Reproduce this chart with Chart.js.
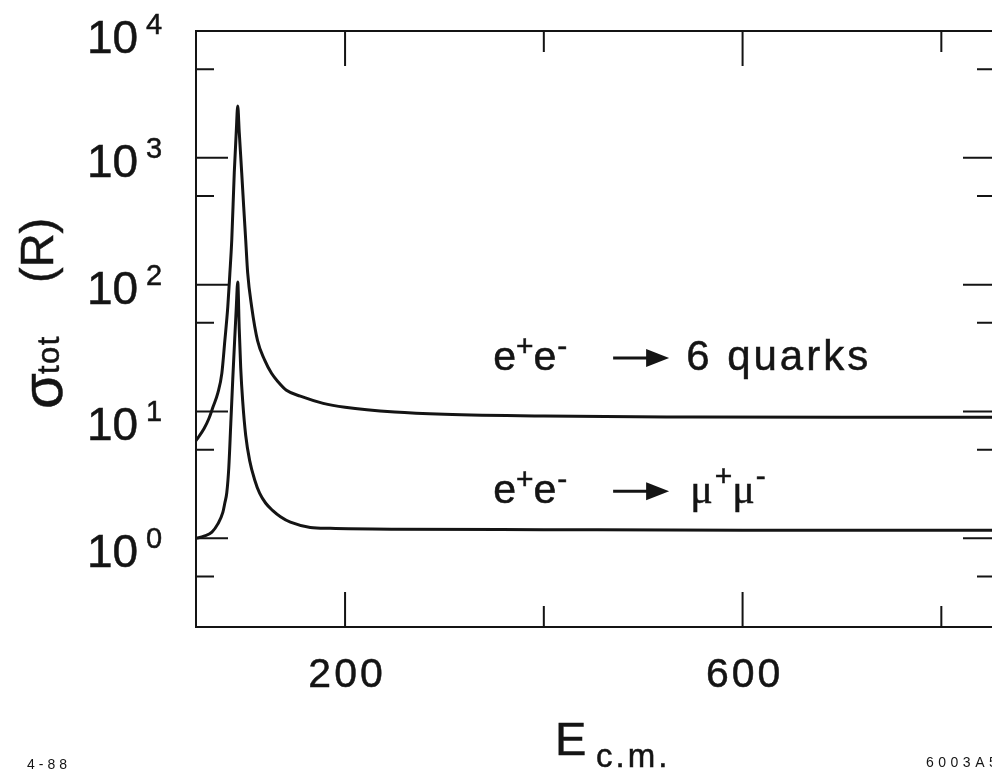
<!DOCTYPE html>
<html>
<head>
<meta charset="utf-8">
<script src="https://cdn.jsdelivr.net/npm/chart.js@4.4.1/dist/chart.umd.min.js"></script>
<style>
  html, body { margin: 0; padding: 0; background: #fff; overflow: hidden; }
  #wrap { width: 1000px; height: 772px; }
</style>
</head>
<body>
<div id="wrap"><canvas id="sigma" width="1000" height="772"></canvas></div>
<script>
// total cross section in units of R vs centre-of-mass energy (GeV)
const quarkE = [50, 52, 58, 63, 67, 72, 76, 79, 82, 84, 86, 88.5, 90.5, 92, 93.5, 96, 98, 100, 102, 106, 112, 119, 126, 133, 141, 155, 178, 200, 250, 300, 400, 550, 700, 854];
const quarkR = [5.9, 6.2, 7.3, 8.8, 10.8, 14, 20, 36, 67, 120, 226, 760, 1600, 2560, 1600, 760, 410, 226, 124, 67, 36, 25.5, 20, 17, 14.7, 13.2, 11.6, 10.8, 9.9, 9.5, 9.2, 9.05, 9.0, 9.0];

const muonE = [50, 58, 66, 72, 77, 79, 81, 83, 85, 87, 89, 90.5, 92, 93.5, 95, 97, 100, 104, 109, 114, 120, 127, 135, 145, 165, 185, 250, 400, 600, 854];
const muonR = [1.0, 1.04, 1.12, 1.3, 1.6, 1.9, 2.3, 3.6, 8, 18, 38, 65, 105, 45, 22, 12, 6.5, 4.1, 2.9, 2.27, 1.9, 1.66, 1.48, 1.34, 1.22, 1.2, 1.18, 1.17, 1.16, 1.16];

const xMajorTicks = [200, 600];
const xMinorTicks = [400, 800];
const xTickLabels = ['200', '600'];
const yDecades = [0, 1, 2, 3, 4];
const yMinorTicks = [0.5, 5, 50, 500, 5000];

const reactionLabels = [
  { E: 351, R: 21.2, product: '6 quarks' },
  { E: 351, R: 1.89, product: 'mu' }
];

const FONT = '"Liberation Sans", Arial, Helvetica, sans-serif';
const INK = '#141414';

function put(ctx, str, x, y, size, spacing, family) {
  ctx.font = `${size}px ${family || FONT}`;
  ctx.letterSpacing = (spacing ?? 0) + 'px';
  ctx.fillText(str, x, y);
  if (size >= 24) {
    // slightly heavier strokes for the large lettering
    ctx.lineWidth = 0.5;
    ctx.strokeText(str, x, y);
  }
  return ctx.measureText(str).width;
}

function arrow(ctx, x0, x1, y) {
  ctx.lineWidth = 3;
  ctx.beginPath();
  ctx.moveTo(x0, y);
  ctx.lineTo(x1 - 20, y);
  ctx.stroke();
  ctx.beginPath();
  ctx.moveTo(x1, y);
  ctx.lineTo(x1 - 23, y - 9);
  ctx.lineTo(x1 - 23, y + 9);
  ctx.closePath();
  ctx.fill();
}

// frame, inward ticks and all the typeset labels
const decorations = {
  id: 'decorations',
  afterDatasetsDraw(chart) {
    const { ctx, chartArea: a, scales: { x, y } } = chart;
    ctx.save();
    ctx.fillStyle = INK;
    ctx.strokeStyle = INK;
    ctx.textAlign = 'left';
    ctx.textBaseline = 'alphabetic';

    ctx.lineWidth = 2;
    ctx.strokeRect(a.left, a.top, a.right - a.left, a.bottom - a.top);

    const tickX = (v, len) => {
      const px = x.getPixelForValue(v);
      ctx.beginPath();
      ctx.moveTo(px, a.bottom); ctx.lineTo(px, a.bottom - len);
      ctx.moveTo(px, a.top); ctx.lineTo(px, a.top + len);
      ctx.stroke();
    };
    const tickY = (v, len) => {
      const py = y.getPixelForValue(v);
      ctx.beginPath();
      ctx.moveTo(a.left, py); ctx.lineTo(a.left + len, py);
      ctx.moveTo(a.right, py); ctx.lineTo(a.right - len, py);
      ctx.stroke();
    };
    xMajorTicks.forEach(v => tickX(v, 35));
    xMinorTicks.forEach(v => tickX(v, 21));
    yDecades.forEach(d => tickY(Math.pow(10, d), 32));
    yMinorTicks.forEach(v => tickY(v, 18));

    // decade labels 10^n
    const drop = [29, 28, 19, 19, 22];
    yDecades.forEach((d, i) => {
      const py = y.getPixelForValue(Math.pow(10, d));
      put(ctx, '10', a.left - 109, py + drop[i], 46, 0);
      put(ctx, String(d), a.left - 50, py + drop[i] - 19, 29, 0);
    });

    // energy labels
    ctx.textAlign = 'center';
    xMajorTicks.forEach((v, i) => {
      put(ctx, xTickLabels[i], x.getPixelForValue(v) + 2, a.bottom + 60, 41, 3);
    });
    ctx.textAlign = 'left';

    // axis titles
    put(ctx, 'E', a.left + 359, a.bottom + 128, 47, 0);
    put(ctx, 'c.m.', a.left + 400, a.bottom + 140, 33, 3);

    const vertical = (str, bx, by, size, spacing, family) => {
      ctx.save();
      ctx.translate(bx, by);
      ctx.rotate(-Math.PI / 2);
      put(ctx, str, 0, 0, size, spacing, family);
      ctx.restore();
    };
    vertical('\u03c3', 62, 409, 58, 0);
    vertical('tot', 59, 374, 31, 1.5);
    vertical('(R)', 53, 283, 47, 0);

    // reaction labels
    reactionLabels.forEach(lab => {
      const x0 = x.getPixelForValue(lab.E) - 2;
      const base = y.getPixelForValue(lab.R);
      let cx = x0;
      cx += put(ctx, 'e', cx, base, 41, 0);
      cx += put(ctx, '+', cx, base - 14, 30, 0);
      cx += put(ctx, 'e', cx, base, 41, 0);
      put(ctx, '-', cx + 1, base - 14, 30, 0);
      arrow(ctx, x0 + 120, x0 + 176, base - 12);
      if (lab.product === 'mu') {
        const serif = '"Liberation Serif", "DejaVu Serif", serif';
        let mx = x0 + 197;
        mx += put(ctx, '\u03bc', mx, base, 42, 0, serif);
        mx += put(ctx, '+', mx + 2, base - 17, 30, 0) + 2;
        mx += put(ctx, '\u03bc', mx, base, 42, 0, serif);
        put(ctx, '-', mx + 1, base - 17, 30, 0);
      } else {
        put(ctx, lab.product, x0 + 193, base, 42, 3);
      }
    });

    // plate annotations
    put(ctx, '4-88', 27, 769, 14, 4);
    put(ctx, '6003A5', 926, 767, 14, 4.5);

    ctx.restore();
  }
};

const toPoints = (es, rs) => es.map((e, i) => ({ x: e, y: rs[i] }));

new Chart(document.getElementById('sigma'), {
  type: 'line',
  data: {
    datasets: [
      {
        label: 'e+e- -> 6 quarks',
        data: toPoints(quarkE, quarkR),
        borderColor: INK,
        borderWidth: 3,
        pointRadius: 0,
        cubicInterpolationMode: 'monotone',
        fill: false
      },
      {
        label: 'e+e- -> mu+mu-',
        data: toPoints(muonE, muonR),
        borderColor: INK,
        borderWidth: 3,
        pointRadius: 0,
        cubicInterpolationMode: 'monotone',
        fill: false
      }
    ]
  },
  options: {
    responsive: false,
    animation: false,
    devicePixelRatio: 1,
    layout: { padding: { left: 196, top: 31, right: 5, bottom: 145 } },
    plugins: { legend: { display: false }, tooltip: { enabled: false } },
    scales: {
      x: { type: 'linear', min: 50, max: 854, display: false },
      y: { type: 'logarithmic', min: 0.2, max: 10000, display: false }
    }
  },
  plugins: [decorations]
});
</script>
</body>
</html>
